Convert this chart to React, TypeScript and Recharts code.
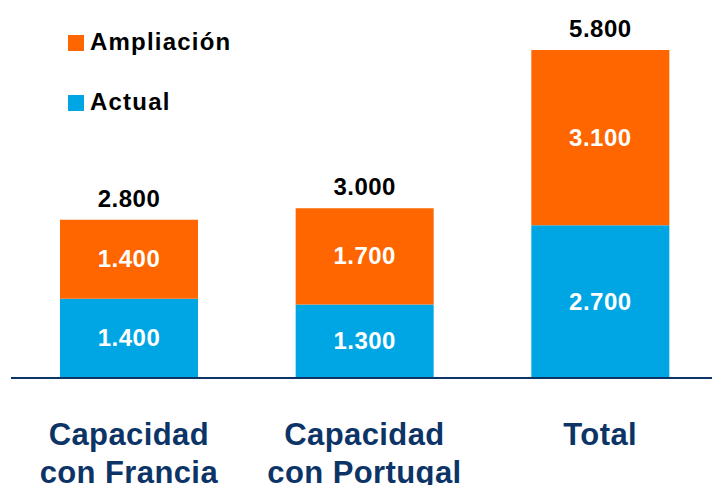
import React from "react";
import { BarChart, Bar, XAxis, YAxis, LabelList } from "recharts";

const categories = [["Capacidad", "con Francia"], ["Capacidad", "con Portugal"], ["Total"]];
const actual = [1400, 1300, 2700];
const ampliacion = [1400, 1700, 3100];
const totals = [2800, 3000, 5800];

const ORANGE = "#FF6600";
const BLUE = "#00A6E4";
const NAVY = "#0C3466";
const FONT = "'Liberation Sans', Arial, sans-serif";

const data = categories.map((c, i) => ({
  name: c.join(" "),
  idx: i,
  actual: actual[i],
  ampliacion: ampliacion[i],
  total: totals[i],
}));

const fmt = (v: number) => v.toLocaleString("de-DE");

const Tick = (props: any) => {
  const { x, y, payload } = props;
  const lines = categories[payload.index] || [payload.value];
  return (
    <g>
      {lines.map((l, i) => (
        <text
          key={i}
          x={x}
          y={y + 59 + i * 38}
          textAnchor="middle"
          fill={NAVY}
          fontFamily={FONT}
          fontWeight="bold"
          fontSize={31}
          letterSpacing={0.4}
        >
          {l}
        </text>
      ))}
    </g>
  );
};

const InnerLabel = (props: any) => {
  const { x, y, width, height, value } = props;
  return (
    <text
      x={x + width / 2}
      y={y + height / 2 + 8}
      textAnchor="middle"
      fill="#FFFFFF"
      fontFamily={FONT}
      fontWeight="bold"
      fontSize={24}
      letterSpacing={0.5}
    >
      {fmt(value)}
    </text>
  );
};

const TotalLabel = (props: any) => {
  const { x, y, width, index } = props;
  return (
    <text
      x={x + width / 2}
      y={y - 13}
      textAnchor="middle"
      fill="#000000"
      fontFamily={FONT}
      fontWeight="bold"
      fontSize={24}
      letterSpacing={0.5}
    >
      {fmt(totals[index])}
    </text>
  );
};

export default function App() {
  return (
    <div style={{ position: "absolute", left: 0, top: 0, width: 712, height: 485, overflow: "hidden", background: "#fff" }}>
      <BarChart
        width={720}
        height={485}
        data={data}
        margin={{ top: 50, right: 2, bottom: 0, left: 11 }}
        barCategoryGap={0}
      >
        <YAxis hide domain={[0, 5800]} />
        <XAxis
          dataKey="name"
          axisLine={{ stroke: NAVY, strokeWidth: 2 }}
          tickLine={false}
          tick={<Tick />}
          height={107}
          interval={0}
        />
        <Bar dataKey="actual" stackId="a" fill={BLUE} barSize={138} isAnimationActive={false}>
          <LabelList dataKey="actual" content={<InnerLabel />} />
        </Bar>
        <Bar dataKey="ampliacion" stackId="a" fill={ORANGE} barSize={138} isAnimationActive={false}>
          <LabelList dataKey="ampliacion" content={<InnerLabel />} />
          <LabelList dataKey="total" content={<TotalLabel />} />
        </Bar>
      </BarChart>
      <div style={{ position: "absolute", left: 68, top: 35, width: 16, height: 16, background: ORANGE }} />
      <div style={{ position: "absolute", left: 90, top: 27, fontFamily: FONT, fontWeight: "bold", fontSize: 24, letterSpacing: 1.2, color: "#000", lineHeight: "30px" }}>
        Ampliación
      </div>
      <div style={{ position: "absolute", left: 68, top: 95, width: 16, height: 16, background: BLUE }} />
      <div style={{ position: "absolute", left: 90, top: 87, fontFamily: FONT, fontWeight: "bold", fontSize: 24, letterSpacing: 1.2, color: "#000", lineHeight: "30px" }}>
        Actual
      </div>
    </div>
  );
}
